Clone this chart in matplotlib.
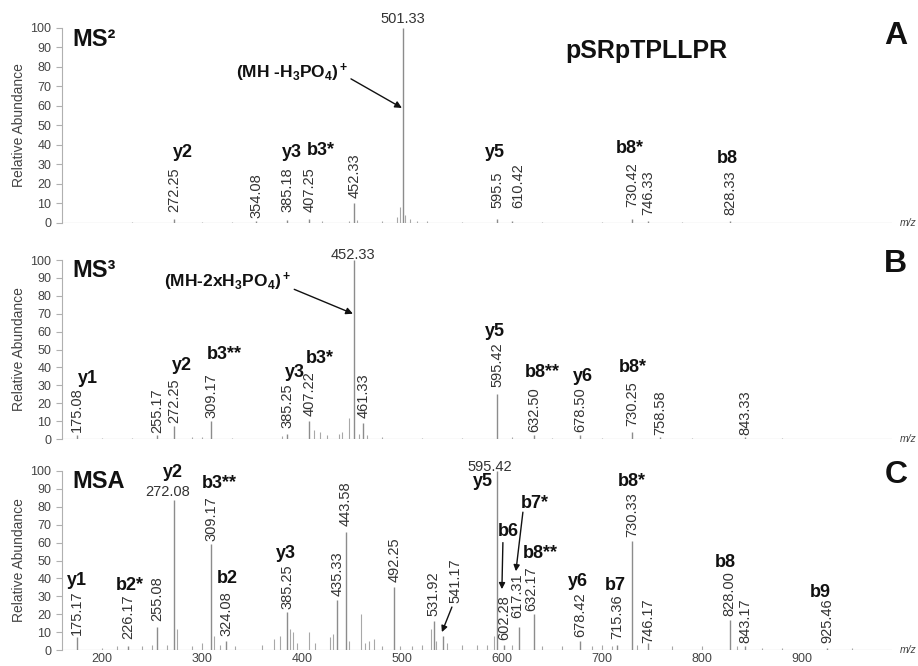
import matplotlib
matplotlib.use("Agg")
import matplotlib.pyplot as plt

plt.rcParams["font.family"] = ["Liberation Sans", "DejaVu Sans"]
plt.rcParams["mathtext.fontset"] = "custom"
plt.rcParams["mathtext.rm"] = "Liberation Sans:bold"
plt.rcParams["mathtext.bf"] = "Liberation Sans:bold"
plt.rcParams["mathtext.it"] = "Liberation Sans:bold:italic"
plt.rcParams["mathtext.default"] = "rm"

# ---- data: panel A (MS2) ----
a_mz = [272.25, 354.08, 385.18, 407.25, 452.33, 501.33, 595.5, 610.42, 730.42, 746.33, 828.33]
a_int = [2, 1, 1.5, 2, 10, 100, 2, 1, 2, 1, 1]
a_text = ["272.25", "354.08", "385.18", "407.25", "452.33", "501.33", "595.5", "610.42",
          "730.42", "746.33", "828.33"]
a_minor_mz = [230, 300, 330, 420, 447, 455, 480, 495, 498, 503, 508, 515, 525, 560, 640, 700, 780]
a_minor_int = [0.5, 0.5, 0.6, 0.8, 1, 1.5, 1, 3, 8, 4, 2, 1, 0.8, 0.5, 0.5, 0.5, 0.5]

# ---- data: panel B (MS3) ----
b_mz = [175.08, 255.17, 272.25, 309.17, 385.25, 407.22, 452.33, 461.33, 595.42, 632.50,
        678.50, 730.25, 758.58, 843.33]
b_int = [2, 2, 7, 10, 3, 10, 100, 9, 25, 2, 2, 4, 1, 1]
b_text = ["175.08", "255.17", "272.25", "309.17", "385.25", "407.22", "452.33", "461.33",
          "595.42", "632.50", "678.50", "730.25", "758.58", "843.33"]
b_minor_mz = [200, 230, 290, 300, 330, 380, 412, 418, 425, 437, 440, 447, 457, 465, 480,
              520, 560, 610, 650, 700, 790, 880]
b_minor_int = [0.7, 0.8, 1, 1.2, 0.8, 1.5, 5, 4, 2, 3, 4, 12, 3, 2, 1, 0.8, 0.8, 1.2, 0.8, 0.7, 0.6, 0.5]

# ---- data: panel C (MSA) ----
c_mz = [175.17, 226.17, 255.08, 272.08, 309.17, 324.08, 385.25, 435.33, 443.58, 492.25,
        531.92, 541.17, 595.42, 602.28, 617.31, 632.17, 678.42, 715.36, 730.33, 746.17,
        828.00, 843.17, 925.46]
c_int = [7, 2, 13, 84, 59, 5, 21, 28, 66, 35, 16, 8, 100, 3, 13, 20, 5, 3, 61, 4, 17, 2, 1]
c_text = ["175.17", "226.17", "255.08", "272.08", "309.17", "324.08", "385.25", "435.33",
          "443.58", "492.25", "531.92", "541.17", "595.42", "602.28", "617.31", "632.17",
          "678.42", "715.36", "730.33", "746.17", "828.00", "843.17", "925.46"]
c_minor_mz = [200, 215, 240, 250, 265, 275, 290, 300, 312, 318, 333, 360, 372, 378, 388,
              391, 395, 407, 413, 428, 431, 447, 459, 463, 467, 472, 480, 498, 510, 520,
              529, 534, 545, 560, 575, 585, 592, 610, 640, 660, 690, 700, 710, 735, 770,
              800, 835, 860, 880, 950]
c_minor_int = [1, 2, 2, 3, 3, 12, 2, 4, 8, 3, 2, 3, 6, 8, 12, 10, 4, 10, 4, 7, 9, 5, 20,
               4, 5, 6, 2, 2, 2, 3, 12, 5, 4, 3, 3, 3, 8, 3, 2, 2, 2, 3, 2, 3, 2, 2, 2, 1,
               1, 1]

# ---- layout: label bottoms (rotated) / None for horizontal top label ----
a_label_y = [5.6, 2.5, 5.6, 5.6, 13, None, 7.7, 7.7, 8, 4, 4]
b_label_y = [4, 3.5, 9, 12, 6, 13, None, 12, 29, 4, 4, 7, 2, 2]
c_label_y = [8.5, 6, 16, None, 61, 8, 23, 30, 69, 38, 19, 26, None, 5.6, 18, 22, 7, 6,
             63, 4, 19, 4, 4]
a_label_dx = [0, 0, 0, 0, 0, 0, 0, 6, 0, 0, 0]
b_label_dx = [0] * len(b_mz)
c_label_dx = [0, 0, 0, 0, 0, 0, 0, 0, 0, 0, 0, 12, 0, 0, -2, -3, 0, 0, 0, 0, 0, 0, 0]
top_label_pos = {"A": [(501.33, 104.6)], "B": [(451, 103)],
                 "C": [(266, 88), (588, 102)]}

a_ions = [("y2", 281, 36), ("y3", 390, 36), ("b3*", 419, 37), ("y5", 593, 36),
          ("b8*", 728, 38), ("b8", 825, 33)]
b_ions = [("y1", 186, 34), ("y2", 280, 41), ("b3**", 322, 47), ("y3", 393, 37),
          ("b3*", 418, 45), ("y5", 593, 60), ("b8**", 640, 37), ("y6", 681, 35),
          ("b8*", 731, 40)]
c_ions = [("y1", 175, 39), ("b2*", 228, 36), ("y2", 271, 99), ("b3**", 317, 93),
          ("b2", 325, 40), ("y3", 384, 54), ("y5", 581, 94), ("b6", 606, 66),
          ("b7*", 633, 82), ("b8**", 638, 54), ("y6", 676, 38), ("b7", 713, 36),
          ("b8*", 730, 94), ("b8", 823, 49), ("b9", 918, 32)]

GRAY = "#8c8c8c"
TXT = "#333333"

fig = plt.figure(figsize=(9.18, 6.66), dpi=100)
rects = {"A": (0.0675, 0.6652, 0.904, 0.2928),
         "B": (0.0675, 0.3408, 0.904, 0.2688),
         "C": (0.0675, 0.0240, 0.904, 0.2688)}

panels = {
    "A": (a_mz, a_int, a_text, a_minor_mz, a_minor_int, a_label_y, a_label_dx, a_ions, "MS²"),
    "B": (b_mz, b_int, b_text, b_minor_mz, b_minor_int, b_label_y, b_label_dx, b_ions, "MS³"),
    "C": (c_mz, c_int, c_text, c_minor_mz, c_minor_int, c_label_y, c_label_dx, c_ions, "MSA"),
}

axes = {}
for key, (mz, inten, text, mmz, mint, lab_y, lab_dx, ions, name) in panels.items():
    ax = fig.add_axes(rects[key])
    axes[key] = ax
    ax.set_xlim(160, 990)
    ax.set_ylim(0, 100)
    ax.axhline(0, color="#a0a0a0", lw=0.8)
    ax.vlines(mmz, 0, mint, color="#a8a8a8", lw=0.8)
    ax.vlines(mz, 0, inten, color=GRAY, lw=1.0)

    for spine in ("top", "right", "bottom"):
        ax.spines[spine].set_visible(False)
    ax.spines["left"].set_color("#b0b0b0")
    ax.spines["left"].set_linewidth(0.8)
    ax.set_yticks(range(0, 101, 10))
    ax.tick_params(axis="y", colors="#b0b0b0", labelcolor="#444444", labelsize=9,
                   length=4, width=0.8)
    ax.tick_params(axis="x", length=0, labelsize=9, labelcolor="#444444")
    if key != "C":
        ax.set_xticks([])
    else:
        ax.set_xticks(range(200, 1000, 100))
        ax.tick_params(axis="x", pad=2)
    ax.set_ylabel("Relative Abundance", fontsize=10, color="#444444", labelpad=3)

    tops = iter(top_label_pos[key])
    for m, t, ly, dx in zip(mz, text, lab_y, lab_dx):
        if ly is None:
            tx, ty = next(tops)
            ax.text(tx, ty, t, ha="center", va="center", fontsize=10.5, color=TXT,
                    clip_on=False)
        else:
            ax.text(m + dx, ly, t, rotation=90, ha="center", va="bottom", fontsize=10.5,
                    color=TXT)

    for s, x, y in ions:
        ax.text(x, y, s, ha="center", va="center", fontsize=13, fontweight="bold",
                color="#111111")

    ax.text(170, 94, name, ha="left", va="center", fontsize=17, fontweight="bold",
            color="#111111")
    ax.text(994, 96 if key == "A" else 98, key, ha="center", va="center", fontsize=23,
            fontweight="bold", color="#111111", clip_on=False)
    ax.text(998, 0, "m/z", ha="left", va="center", fontsize=7.5, style="italic",
            color="#444444", clip_on=False)

# panel-specific annotations
axA, axB, axC = axes["A"], axes["B"], axes["C"]
axA.text(745, 88, "pSRpTPLLPR", ha="center", va="center", fontsize=18, fontweight="bold",
         color="#111111")
axA.annotate(r"(MH -H$_3$PO$_4$)$^+$", xy=(500, 59), xytext=(390, 77), ha="center",
             va="center", fontsize=12.5, fontweight="bold", color="#111111",
             arrowprops=dict(arrowstyle="-|>", color="#111111", lw=1.0,
                             shrinkA=0, shrinkB=0, mutation_scale=10,
                             relpos=(1.0, 0.3)))
axB.annotate(r"(MH-2xH$_3$PO$_4$)$^+$", xy=(451, 70), xytext=(326, 88), ha="center",
             va="center", fontsize=12.5, fontweight="bold", color="#111111",
             arrowprops=dict(arrowstyle="-|>", color="#111111", lw=1.0,
                             shrinkA=0, shrinkB=0, mutation_scale=10,
                             relpos=(1.0, 0.2)))
arrow = dict(arrowstyle="-|>", color="#111111", lw=1.0, shrinkA=0, shrinkB=0,
             mutation_scale=9)
axC.annotate("", xy=(540, 10), xytext=(550, 24), arrowprops=arrow)
axC.annotate("", xy=(600, 34), xytext=(601, 60), arrowprops=arrow)
axC.annotate("", xy=(614, 44), xytext=(621, 77), arrowprops=arrow)

fig.savefig("out.png", dpi=100)
